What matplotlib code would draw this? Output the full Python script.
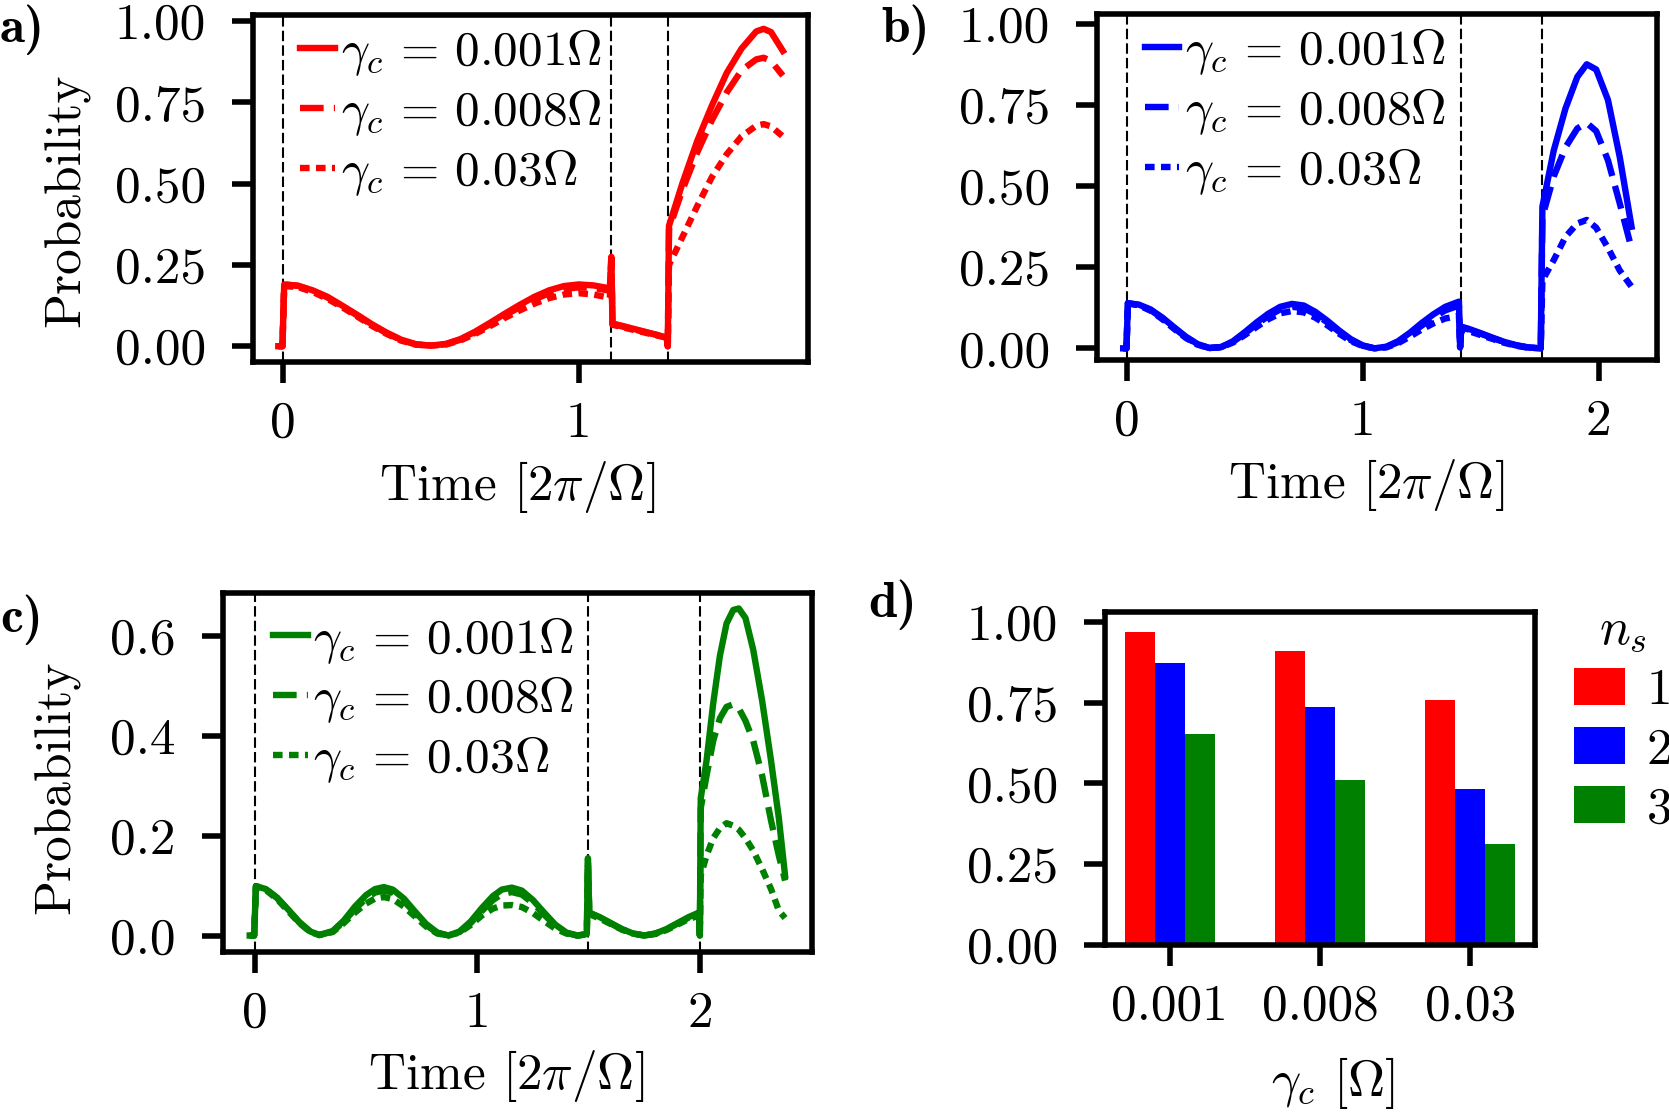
import matplotlib
matplotlib.use('Agg')
import matplotlib.pyplot as plt

plt.rcParams.update({
    'font.family': ['cmr10'],
    'mathtext.fontset': 'cm',
    'axes.formatter.use_mathtext': True,
    'font.size': 37,
    'axes.unicode_minus': False,
})

# ---------------- data ----------------
gamma_labels = [r'$\gamma_c\,=\,0.001\Omega$', r'$\gamma_c\,=\,0.008\Omega$', r'$\gamma_c\,=\,0.03\Omega$']

# panel a (n_s = 1)
ta = [-0.016, -0.002, 0.004, 0.05, 0.1, 0.15, 0.2, 0.25, 0.3, 0.35, 0.4, 0.45, 0.5, 0.55, 0.6, 0.65,
      0.7, 0.75, 0.8, 0.85, 0.9, 0.95, 1.0, 1.05, 1.105, 1.110, 1.114, 1.15, 1.2, 1.25, 1.297, 1.301,
      1.305, 1.35, 1.4, 1.45, 1.5, 1.55, 1.6, 1.625, 1.65, 1.69]
pa_001 = [0, 0, 0.19, 0.186, 0.172, 0.152, 0.125, 0.097, 0.068, 0.042, 0.02, 0.006, 0.002, 0.007, 0.022,
          0.045, 0.072, 0.1, 0.127, 0.152, 0.172, 0.185, 0.19, 0.187, 0.178, 0.275, 0.07, 0.062, 0.05,
          0.038, 0.027, 0.0, 0.37, 0.5, 0.63, 0.74, 0.84, 0.915, 0.968, 0.976, 0.966, 0.908]
pa_008 = [0, 0, 0.19, 0.186, 0.171, 0.15, 0.123, 0.095, 0.066, 0.04, 0.019, 0.005, 0.002, 0.006, 0.02,
          0.042, 0.068, 0.095, 0.12, 0.144, 0.163, 0.176, 0.181, 0.179, 0.171, 0.27, 0.068, 0.06, 0.049,
          0.038, 0.028, 0.0, 0.36, 0.48, 0.595, 0.695, 0.78, 0.848, 0.882, 0.887, 0.877, 0.832]
pa_03 = [0, 0, 0.185, 0.182, 0.167, 0.146, 0.12, 0.092, 0.063, 0.038, 0.017, 0.005, 0.002, 0.005, 0.018,
         0.038, 0.062, 0.087, 0.11, 0.131, 0.148, 0.159, 0.163, 0.159, 0.149, 0.26, 0.066, 0.058, 0.047,
         0.036, 0.026, 0.0, 0.25, 0.335, 0.43, 0.52, 0.59, 0.645, 0.678, 0.683, 0.676, 0.645]
va = [0.0, 1.109, 1.301]

# panel b (n_s = 2)
tb = [-0.016, -0.002, 0.004, 0.05, 0.1, 0.15, 0.2, 0.25, 0.3, 0.35, 0.4, 0.45, 0.5, 0.55, 0.6, 0.65,
      0.7, 0.75, 0.8, 0.85, 0.9, 0.95, 1.0, 1.05, 1.1, 1.15, 1.2, 1.25, 1.3, 1.35, 1.408, 1.413, 1.418,
      1.45, 1.5, 1.55, 1.6, 1.65, 1.7, 1.755, 1.762, 1.81, 1.86, 1.91, 1.95, 1.99, 2.04, 2.09, 2.14]
pb_001 = [0, 0, 0.139, 0.135, 0.12, 0.095, 0.065, 0.036, 0.013, 0.001, 0.004, 0.022, 0.05, 0.08, 0.107,
          0.128, 0.137, 0.132, 0.112, 0.085, 0.055, 0.028, 0.009, 0.0, 0.005, 0.022, 0.048, 0.078, 0.105,
          0.128, 0.144, 0.003, 0.067, 0.06, 0.047, 0.033, 0.02, 0.01, 0.003, 0.0, 0.437, 0.61, 0.74,
          0.837, 0.876, 0.86, 0.766, 0.59, 0.375]
pb_008 = [0, 0, 0.139, 0.134, 0.118, 0.093, 0.063, 0.034, 0.012, 0.001, 0.004, 0.02, 0.046, 0.074, 0.1,
          0.12, 0.128, 0.124, 0.105, 0.08, 0.051, 0.025, 0.008, 0.0, 0.004, 0.019, 0.043, 0.07, 0.095,
          0.117, 0.132, 0.003, 0.065, 0.058, 0.045, 0.032, 0.019, 0.009, 0.003, 0.0, 0.406, 0.53, 0.62,
          0.678, 0.695, 0.67, 0.58, 0.447, 0.308]
pb_03 = [0, 0, 0.138, 0.133, 0.116, 0.09, 0.06, 0.032, 0.011, 0.001, 0.003, 0.018, 0.041, 0.066, 0.09,
         0.108, 0.115, 0.111, 0.094, 0.071, 0.045, 0.022, 0.007, 0.0, 0.003, 0.016, 0.036, 0.058, 0.077,
         0.092, 0.1, 0.003, 0.06, 0.053, 0.041, 0.029, 0.017, 0.008, 0.002, 0.0, 0.21, 0.272, 0.344,
         0.385, 0.396, 0.372, 0.31, 0.24, 0.19]
vb = [0.0, 1.415, 1.76]

# panel c (n_s = 3)
tc = [-0.023, -0.003, 0.005, 0.05, 0.1, 0.15, 0.2, 0.25, 0.29, 0.35, 0.4, 0.45, 0.5, 0.54, 0.58, 0.62,
      0.67, 0.72, 0.77, 0.82, 0.87, 0.92, 0.97, 1.02, 1.07, 1.11, 1.155, 1.2, 1.25, 1.3, 1.35, 1.4, 1.45,
      1.492, 1.497, 1.503, 1.55, 1.6, 1.65, 1.7, 1.75, 1.8, 1.85, 1.9, 1.95, 1.996, 2.0, 2.004, 2.03,
      2.06, 2.09, 2.12, 2.15, 2.175, 2.205, 2.24, 2.28, 2.32, 2.355, 2.383]
pc_001 = [0, 0, 0.099, 0.093, 0.076, 0.052, 0.027, 0.008, 0.001, 0.009, 0.03, 0.058, 0.081, 0.093, 0.097,
          0.092, 0.074, 0.048, 0.023, 0.006, 0.0, 0.008, 0.028, 0.055, 0.079, 0.092, 0.096, 0.09, 0.071,
          0.046, 0.022, 0.006, 0.0, 0.003, 0.155, 0.046, 0.037, 0.025, 0.013, 0.004, 0.0, 0.004, 0.013,
          0.025, 0.037, 0.046, 0.0, 0.275, 0.35, 0.465, 0.56, 0.625, 0.652, 0.655, 0.636, 0.572, 0.47,
          0.35, 0.235, 0.12]
pc_008 = [0, 0, 0.099, 0.093, 0.075, 0.051, 0.026, 0.007, 0.001, 0.008, 0.028, 0.053, 0.074, 0.086, 0.09,
          0.086, 0.069, 0.045, 0.021, 0.005, 0.0, 0.007, 0.025, 0.049, 0.071, 0.083, 0.087, 0.082, 0.065,
          0.042, 0.02, 0.005, 0.0, 0.003, 0.15, 0.045, 0.036, 0.024, 0.012, 0.004, 0.0, 0.004, 0.012,
          0.024, 0.036, 0.044, 0.0, 0.255, 0.32, 0.39, 0.435, 0.458, 0.463, 0.455, 0.43, 0.39, 0.32,
          0.23, 0.16, 0.11]
pc_03 = [0, 0, 0.097, 0.091, 0.073, 0.049, 0.025, 0.007, 0.001, 0.007, 0.025, 0.046, 0.064, 0.074, 0.077,
         0.073, 0.058, 0.038, 0.018, 0.004, 0.0, 0.006, 0.021, 0.04, 0.054, 0.06, 0.061, 0.057, 0.045,
         0.029, 0.014, 0.004, 0.0, 0.002, 0.14, 0.043, 0.034, 0.023, 0.012, 0.004, 0.0, 0.003, 0.011,
         0.022, 0.033, 0.04, 0.0, 0.12, 0.16, 0.195, 0.215, 0.225, 0.22, 0.212, 0.195, 0.17, 0.133,
         0.093, 0.05, 0.035]
vc = [0.0, 1.497, 2.0]

# panel d (final probability)
bar_categories = ['0.001', '0.008', '0.03']
ns_labels = ['1', '2', '3']
final_ns1 = [0.969, 0.91, 0.757]
final_ns2 = [0.871, 0.737, 0.483]
final_ns3 = [0.654, 0.509, 0.311]

# ---------------- style ----------------
W, H = 1669, 1112
RED, BLUE, GREEN = '#ff0000', '#0000ff', '#008000'
LW = 4.6
SPINE_W = 4.0
styles = ['-', '--', (0, (1.5, 1.0))]

fig = plt.figure(figsize=(W / 100, H / 100), dpi=100)


def rect(l, r, t, b):
    return [l / W, 1 - b / H, (r - l) / W, (b - t) / H]


def style_axes(ax):
    for s in ax.spines.values():
        s.set_linewidth(SPINE_W)
    ax.tick_params(axis='both', which='major', direction='out', length=15, width=SPINE_W,
                   top=False, right=False, labelsize=37)
    ax.tick_params(axis='y', pad=19)
    ax.tick_params(axis='x', pad=13)


def line_panel(ax, t, ys, vlines, color, xlim, ylim, xticks, yticks, yfmt, leg_anchor, xl_coords, yl_coords):
    for v in vlines:
        ax.axvline(v, color='black', lw=1.5, ls=(0, (5, 2)), zorder=1)
    for y, ls, lab in zip(ys, styles, gamma_labels):
        ax.plot(t, y, color=color, lw=LW, ls=ls, label=lab, zorder=3)
    ax.set_xlim(*xlim)
    ax.set_ylim(*ylim)
    ax.set_xticks(xticks)
    ax.set_xticklabels([str(x) for x in xticks])
    ax.set_yticks(yticks)
    ax.set_yticklabels([yfmt % v for v in yticks])
    ax.set_xlabel(r'Time $[2\pi/\Omega]$')
    ax.xaxis.set_label_coords(*xl_coords)
    if yl_coords is not None:
        ax.set_ylabel('Probability')
        ax.yaxis.set_label_coords(*yl_coords)
    ax.legend(loc='upper left', bbox_to_anchor=leg_anchor, frameon=False, handlelength=0.7,
              handletextpad=0.12, borderpad=0, borderaxespad=0, labelspacing=0.18, fontsize=35.5)
    style_axes(ax)


yt4 = [0.0, 0.25, 0.5, 0.75, 1.0]

ax_a = fig.add_axes(rect(253, 808, 15, 362))
line_panel(ax_a, ta, [pa_001, pa_008, pa_03], va, RED, (-0.1015, 1.775), (-0.0485, 1.0185),
           [0, 1], yt4, '%.2f', (0.085, 0.965), (0.475, -0.28), (-0.294, 0.465))

ax_b = fig.add_axes(rect(1097, 1657, 14, 360))
line_panel(ax_b, tb, [pb_001, pb_008, pb_03], vb, BLUE, (-0.127, 2.248), (-0.036, 1.031),
           [0, 1, 2], yt4, '%.2f', (0.085, 0.965), (0.48, -0.28), None)

ax_c = fig.add_axes(rect(223, 812, 593, 952))
line_panel(ax_c, tc, [pc_001, pc_008, pc_03], vc, GREEN, (-0.143, 2.504), (-0.033, 0.686),
           [0, 1, 2], [0.0, 0.2, 0.4, 0.6], '%.1f', (0.085, 0.94), (0.48, -0.267), (-0.243, 0.46))

ax_d = fig.add_axes(rect(1105, 1535, 612, 945))
bw = 0.2
xs = list(range(len(bar_categories)))
for k, (vals, col, lab) in enumerate(zip([final_ns1, final_ns2, final_ns3], [RED, BLUE, GREEN], ns_labels)):
    ax_d.bar([x + (k - 1) * bw for x in xs], vals, width=bw, color=col, label=lab, linewidth=0)
ax_d.set_xlim(-0.43, 2.43)
ax_d.set_ylim(0, 1.03)
ax_d.set_xticks(xs)
ax_d.set_xticklabels(bar_categories)
ax_d.set_yticks(yt4)
ax_d.set_yticklabels(['%.2f' % v for v in yt4])
ax_d.set_xlabel(r'$\gamma_c$ $[\Omega]$')
ax_d.xaxis.set_label_coords(0.53, -0.33)
ax_d.legend(loc='upper left', bbox_to_anchor=(1.09, 1.01), frameon=False, title=r'$n_s$',
            title_fontsize=37, fontsize=37, handlelength=1.0, handleheight=0.72, handletextpad=0.42,
            borderpad=0, borderaxespad=0, labelspacing=0.25)
style_axes(ax_d)

# panel labels
for lab, x, yb in [('a)', 0, 42), ('b)', 881, 42), ('c)', 0, 632), ('d)', 868, 617)]:
    fig.text(x / W, 1 - yb / H, lab, fontsize=37, family='cmb10', ha='left', va='baseline')

fig.savefig('out.png', dpi=100)
